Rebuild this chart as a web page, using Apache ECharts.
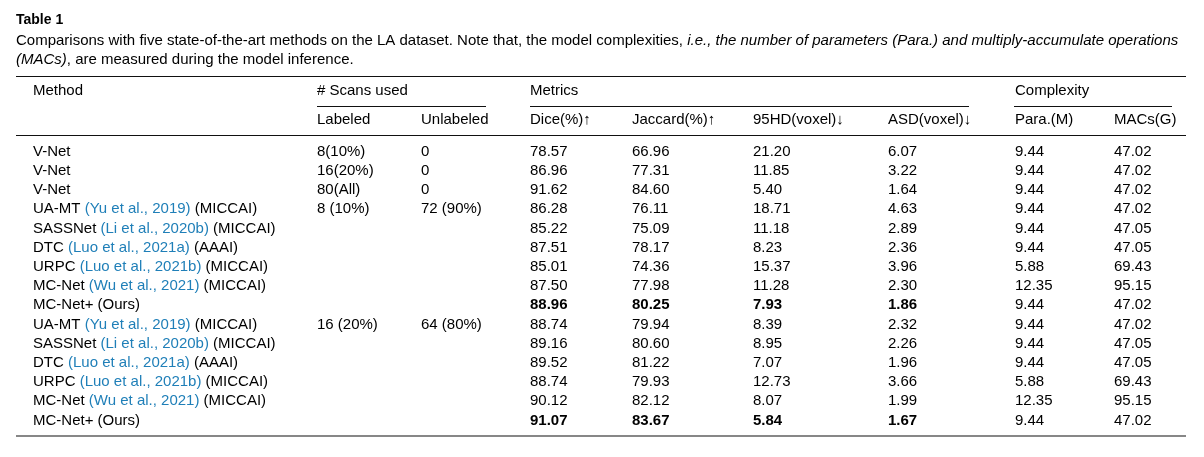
<!DOCTYPE html>
<html>
<head>
<meta charset="utf-8">
<script src="https://cdn.jsdelivr.net/npm/echarts@6/dist/echarts.min.js"></script>
<style>
  html, body { margin: 0; padding: 0; background: #fff; }
  #chart { width: 1204px; height: 457px; }
</style>
</head>
<body>
<div id="chart"></div>
<script>
// table data
const methods = ['V-Net', 'V-Net', 'V-Net', 'UA-MT', 'SASSNet', 'DTC', 'URPC', 'MC-Net', 'MC-Net+',
  'UA-MT', 'SASSNet', 'DTC', 'URPC', 'MC-Net', 'MC-Net+']
const citations = ['', '', '', 'Yu et al., 2019', 'Li et al., 2020b', 'Luo et al., 2021a', 'Luo et al., 2021b', 'Wu et al., 2021', '',
  'Yu et al., 2019', 'Li et al., 2020b', 'Luo et al., 2021a', 'Luo et al., 2021b', 'Wu et al., 2021', '']
const venues = ['', '', '', '(MICCAI)', '(MICCAI)', '(AAAI)', '(MICCAI)', '(MICCAI)', '(Ours)',
  '(MICCAI)', '(MICCAI)', '(AAAI)', '(MICCAI)', '(MICCAI)', '(Ours)']
const labeled = ['8(10%)', '16(20%)', '80(All)', '8 (10%)', '', '', '', '', '',
  '16 (20%)', '', '', '', '', '']
const unlabeled = ['0', '0', '0', '72 (90%)', '', '', '', '', '',
  '64 (80%)', '', '', '', '', '']
const dice = [78.57, 86.96, 91.62, 86.28, 85.22, 87.51, 85.01, 87.50, 88.96, 88.74, 89.16, 89.52, 88.74, 90.12, 91.07]
const jaccard = [66.96, 77.31, 84.60, 76.11, 75.09, 78.17, 74.36, 77.98, 80.25, 79.94, 80.60, 81.22, 79.93, 82.12, 83.67]
const hd95 = [21.20, 11.85, 5.40, 18.71, 11.18, 8.23, 15.37, 11.28, 7.93, 8.39, 8.95, 7.07, 12.73, 8.07, 5.84]
const asd = [6.07, 3.22, 1.64, 4.63, 2.89, 2.36, 3.96, 2.30, 1.86, 2.32, 2.26, 1.96, 3.66, 1.99, 1.67]
const para = [9.44, 9.44, 9.44, 9.44, 9.44, 9.44, 5.88, 12.35, 9.44, 9.44, 9.44, 9.44, 5.88, 12.35, 9.44]
const macs = [47.02, 47.02, 47.02, 47.02, 47.05, 47.05, 69.43, 95.15, 47.02, 47.02, 47.05, 47.05, 69.43, 95.15, 47.02]
const boldRows = [8, 14] // MC-Net+ (Ours) metrics are bold

const headerTop = ['Method', '# Scans used', 'Metrics', 'Complexity']
const headerSub = ['Labeled', 'Unlabeled', 'Dice(%)↑', 'Jaccard(%)↑', '95HD(voxel)↓', 'ASD(voxel)↓', 'Para.(M)', 'MACs(G)']

// layout: left edge of each column (px)
const colX = [33, 317, 421, 530, 632, 753, 888, 1015, 1114]
const FONT = '"Liberation Sans", Arial, sans-serif'
const FS = 15
const INK = '#000'
const CITE_BLUE = '#1f7fb8'

const rowIdx = methods.map((_, i) => i)

function methodLabel (i) {
  let s = methods[i]
  if (citations[i]) s += ' {c|(' + citations[i] + ')}'
  if (venues[i]) s += ' ' + venues[i]
  return s
}

// one invisible scatter series per column, label carries the text
function colSeries (c, texts, boldable) {
  return {
    type: 'scatter',
    symbolSize: 0,
    silent: true,
    itemStyle: { opacity: 1 },
    data: texts.map((t, i) => ({
      value: [colX[c], i],
      label: { fontWeight: boldable && boldRows.includes(i) ? 'bold' : 'normal' },
      txt: t
    })),
    label: {
      show: true,
      position: 'right',
      distance: 0,
      opacity: 1,
      color: INK,
      fontFamily: FONT,
      fontSize: FS,
      formatter: p => p.data.txt,
      rich: { c: { color: CITE_BLUE, fontFamily: FONT, fontSize: FS } }
    }
  }
}

const fmt = arr => arr.map(v => v.toFixed(2))

const chart = echarts.init(document.getElementById('chart'), null, { renderer: 'canvas' })

const txt = (x, y, text, extra) => ({
  type: 'text', x, y, silent: true,
  style: Object.assign({ text, fill: INK, font: FS + 'px ' + FONT, textVerticalAlign: 'middle' }, extra || {})
})
const rule = (x1, x2, y, w) => ({
  type: 'line', silent: true,
  shape: { x1, y1: y, x2, y2: y },
  style: { stroke: '#111', lineWidth: w || 1 }
})
const italic = { i: { fontStyle: 'italic', fontFamily: FONT, fontSize: 15 } }

const option = {
  animation: false,
  backgroundColor: '#fff',
  grid: { left: 0, right: 0, top: 142, height: 288 },
  xAxis: { type: 'value', min: 0, max: 1204, show: false },
  yAxis: { type: 'category', data: rowIdx, inverse: true, show: false },
  graphic: [
    txt(16, 20, 'Table 1', { font: 'bold 14px ' + FONT }),
    txt(16, 41, 'Comparisons with five state-of-the-art methods on the LA dataset. Note that, the model complexities, {i|i.e., the number of parameters (Para.) and multiply-accumulate operations}', {
      rich: italic, font: '15px ' + FONT
    }),
    txt(16, 59.5, '{i|(MACs)}, are measured during the model inference.', {
      rich: italic, font: '15px ' + FONT
    }),
    rule(16, 1186, 76.5, 1.2),
    txt(colX[0], 90.5, headerTop[0]),
    txt(colX[1], 90.5, headerTop[1]),
    txt(colX[3], 90.5, headerTop[2]),
    txt(colX[7], 90.5, headerTop[3]),
    rule(317, 486, 106.5),
    rule(530, 969, 106.5),
    rule(1014, 1172, 106.5),
    ...headerSub.map((h, k) => txt(colX[k + 1], 120, h)),
    rule(16, 1186, 135.5, 1.2),
    rule(16, 1186, 436, 1.2)
  ],
  series: [
    colSeries(0, rowIdx.map(methodLabel), false),
    colSeries(1, labeled, false),
    colSeries(2, unlabeled, false),
    colSeries(3, fmt(dice), true),
    colSeries(4, fmt(jaccard), true),
    colSeries(5, fmt(hd95), true),
    colSeries(6, fmt(asd), true),
    colSeries(7, fmt(para), false),
    colSeries(8, fmt(macs), false)
  ]
}

chart.setOption(option)
window.addEventListener('resize', () => chart.resize())
</script>
</body>
</html>
